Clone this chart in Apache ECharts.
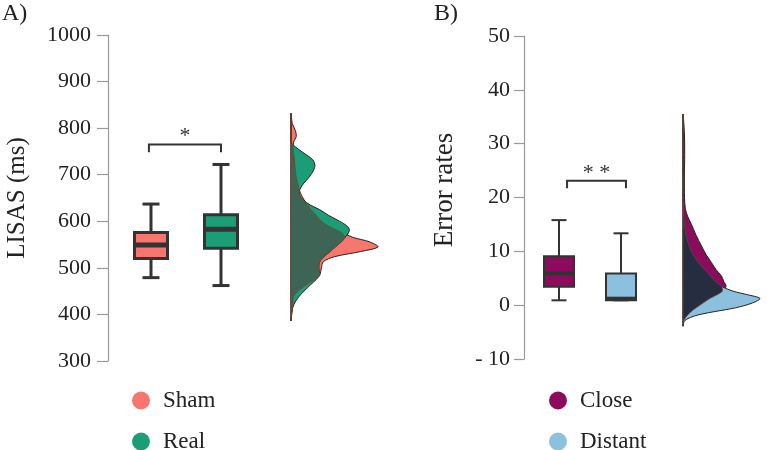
<!DOCTYPE html>
<html>
<head>
<meta charset="utf-8">
<script src="https://cdn.jsdelivr.net/npm/echarts@6/dist/echarts.min.js"></script>
<style>
  html, body { margin: 0; padding: 0; background: #fff; }
  #chart { width: 767px; height: 450px; }
</style>
</head>
<body>
<div id="chart"></div>
<script>
var FONT = 'Liberation Serif';

// ---- panel A: LISAS (ms) ----
// box rows: [x, min, q1, median, q3, max]
var shamBox = [0, 479, 520, 549, 576, 637];
var realBox = [1, 462, 542, 583, 614, 722];
var lisasBracket = [-0.03, 1.0, 765, 748];
// density (relative width)
var lisasLevels = [386, 405, 420, 438, 450, 463, 475, 485, 500, 513, 524, 535, 545, 556, 565, 575, 583, 592, 603, 613, 625, 635, 646, 656, 665, 680, 695, 710, 720, 732, 746, 760, 770, 782, 795, 810, 832];
var shamDensity = [0, 0.01, 0.02, 0.03, 0.08, 0.17, 0.27, 0.33, 0.35, 0.37, 0.5, 0.8, 1.0, 0.9, 0.72, 0.59, 0.5, 0.41, 0.33, 0.29, 0.23, 0.19, 0.15, 0.12, 0.1, 0.08, 0.06, 0.05, 0.045, 0.04, 0.03, 0.025, 0.03, 0.06, 0.05, 0.015, 0];
var realDensity = [0, 0.01, 0.03, 0.09, 0.15, 0.22, 0.29, 0.33, 0.32, 0.33, 0.38, 0.45, 0.51, 0.58, 0.62, 0.66, 0.67, 0.63, 0.53, 0.43, 0.33, 0.22, 0.14, 0.1, 0.095, 0.14, 0.21, 0.26, 0.275, 0.25, 0.15, 0.05, 0, 0, 0, 0, 0];

// ---- panel B: error rates ----
var closeBox = [0, 0.9, 3.4, 5.9, 9.1, 15.8];
var distantBox = [1, 0.9, 0.9, 1.2, 5.9, 13.35];
var errorBracket = [0.13, 1.08, 23.1, 21.7];
var errorLevels = [-3.9, -3.2, -2.6, -2.0, -1.4, -0.5, 0.4, 1.25, 2.0, 2.6, 3.5, 4.4, 5.4, 6.6, 7.9, 9.4, 11, 13, 15, 16.5, 18, 20, 24, 28, 32, 35.5];
var closeDensity = [0, 0.01, 0.02, 0.05, 0.09, 0.17, 0.26, 0.35, 0.45, 0.51, 0.56, 0.53, 0.5, 0.43, 0.37, 0.3, 0.24, 0.17, 0.11, 0.06, 0.03, 0.02, 0.018, 0.022, 0.018, 0];
var distantDensity = [0, 0.005, 0.05, 0.15, 0.33, 0.68, 0.9, 1.0, 0.82, 0.65, 0.5, 0.42, 0.36, 0.28, 0.2, 0.13, 0.08, 0.04, 0.02, 0.01, 0.005, 0.002, 0.001, 0, 0, 0];

var colors = {
	Sham: '#F7766D',
	Real: '#1B9E77',
	Close: '#8C0B5D',
	Distant: '#8BC0DF',
	overlapA: '#3D6455',
	overlapB: '#262D40'
};

function pairs(levels, dens) {
	return levels.map(function (v, i) { return [dens[i], v]; });
}
function minPairs(levels, a, b) {
	return levels.map(function (v, i) { return [Math.min(a[i], b[i]), v]; });
}

function boxRenderer(boxW, capW, lineW, medW) {
	return function (params, api) {
		var x = api.value(0);
		var lo = api.coord([x, api.value(1)]);
		var q1 = api.coord([x, api.value(2)]);
		var md = api.coord([x, api.value(3)]);
		var q3 = api.coord([x, api.value(4)]);
		var hi = api.coord([x, api.value(5)]);
		var cx = md[0];
		function st() { return { stroke: '#333', lineWidth: lineW }; }
		return {
			type: 'group',
			children: [
				{ type: 'line', shape: { x1: cx, y1: hi[1], x2: cx, y2: q3[1] }, style: st() },
				{ type: 'line', shape: { x1: cx, y1: q1[1], x2: cx, y2: lo[1] }, style: st() },
				{ type: 'line', shape: { x1: cx - capW / 2, y1: hi[1], x2: cx + capW / 2, y2: hi[1] }, style: st() },
				{ type: 'line', shape: { x1: cx - capW / 2, y1: lo[1], x2: cx + capW / 2, y2: lo[1] }, style: st() },
				{ type: 'rect', shape: { x: cx - boxW / 2, y: q3[1], width: boxW, height: q1[1] - q3[1] },
					style: { fill: api.visual('color'), stroke: '#333', lineWidth: lineW } },
				{ type: 'line', shape: { x1: cx - boxW / 2, y1: md[1], x2: cx + boxW / 2, y2: md[1] },
					style: { stroke: '#333', lineWidth: medW } }
			]
		};
	};
}

function densityRenderer(stroke, lineW) {
	return function (params, api) {
		if (params.dataIndexInside !== 0) return;
		var n = params.dataInsideLength;
		var curve = [], base = [];
		for (var i = 0; i < n; i++) {
			curve.push(api.coord([api.value(0, i), api.value(1, i)]));
			if (i > 0 && i < n - 1) base.push(api.coord([0, api.value(1, i)]));
		}
		var pts = curve.concat(base.reverse());
		return {
			type: 'polygon',
			shape: { points: pts, smooth: 0.3 },
			style: { fill: api.visual('color'), stroke: stroke, lineWidth: lineW }
		};
	};
}

function bracketRenderer(label, lift) {
	return function (params, api) {
		var a = api.coord([api.value(0), api.value(2)]);
		var b = api.coord([api.value(1), api.value(2)]);
		var legY = api.coord([api.value(0), api.value(3)])[1];
		return {
			type: 'group',
			children: [
				{ type: 'polyline', shape: { points: [[a[0], legY], a, b, [b[0], legY]] },
					style: { stroke: '#333', lineWidth: 2, fill: null } },
				{ type: 'text', style: { text: label, x: (a[0] + b[0]) / 2, y: a[1] - lift, align: 'center',
					verticalAlign: 'middle', fontSize: 22, fontFamily: FONT, fill: '#333' } }
			]
		};
	};
}

function valueAxis(grid, min, max, interval, offset, name, extra) {
	var ax = {
		gridIndex: grid, type: 'value', min: min, max: max, interval: interval, offset: offset,
		name: name, nameLocation: 'middle', nameMoveOverlap: false,
		axisLine: { show: true, onZero: false, lineStyle: { color: '#9a9a9a', width: 1.2 } },
		axisTick: { show: true, length: 11, lineStyle: { color: '#9a9a9a', width: 1.2 } },
		axisLabel: { fontSize: 22, fontFamily: FONT, color: '#222', margin: 17,
			formatter: function (v) { return String(v); } },
		splitLine: { show: false }
	};
	for (var k in extra) ax[k] = extra[k];
	return ax;
}
function hiddenAxis(grid, min, max) {
	return { gridIndex: grid, type: 'value', min: min, max: max, show: false,
		axisLine: { onZero: false }, splitLine: { show: false } };
}

function legendFor(names, left) {
	return {
		data: names, orient: 'vertical', left: left, top: 389, height: 120, padding: 0, icon: 'circle',
		itemWidth: 18, itemHeight: 18, itemGap: 18, selectedMode: false,
		textStyle: { fontSize: 23, lineHeight: 20, fontFamily: FONT, color: '#222', padding: [0, 0, 0, 8] }
	};
}

var chart = echarts.init(document.getElementById('chart'));
var option = {
	animation: false,
	backgroundColor: '#fff',
	title: [
		{ text: 'A)', left: 2, top: 2, padding: 0, textStyle: { fontSize: 24, fontWeight: 'normal', fontFamily: FONT, color: '#222' } },
		{ text: 'B)', left: 434, top: 2, padding: 0, textStyle: { fontSize: 24, fontWeight: 'normal', fontFamily: FONT, color: '#222' } }
	],
	legend: [
		legendFor(['Sham', 'Real'], 132),
		legendFor(['Close', 'Distant'], 549)
	],
	grid: [
		{ left: 116, top: 35, width: 140, height: 326, outerBoundsMode: 'none' },
		{ left: 291, top: 35, width: 87, height: 326, outerBoundsMode: 'none' },
		{ left: 528, top: 36, width: 124, height: 323, outerBoundsMode: 'none' },
		{ left: 683, top: 36, width: 77, height: 323, outerBoundsMode: 'none' }
	],
	xAxis: [
		hiddenAxis(0, -0.5, 1.5),
		hiddenAxis(1, 0, 1),
		hiddenAxis(2, -0.5, 1.5),
		hiddenAxis(3, 0, 1)
	],
	yAxis: [
		valueAxis(0, 300, 1000, 100, 8, 'LISAS (ms)', {
			nameGap: 78,
			nameTextStyle: { fontSize: 25, fontFamily: FONT, color: '#222' }
		}),
		hiddenAxis(1, 300, 1000),
		valueAxis(2, -10, 50, 10, 4, 'Error rates', {
			nameGap: 66,
			nameTextStyle: { fontSize: 27, fontFamily: FONT, color: '#222', padding: [0, 0, 0, 15] },
			axisTick: { show: true, length: 10, lineStyle: { color: '#9a9a9a', width: 1.2 } },
			axisLabel: { fontSize: 22, fontFamily: FONT, color: '#222', margin: 14,
				formatter: function (v) { return v < 0 ? '- ' + Math.abs(v) : String(v); } }
		}),
		hiddenAxis(3, -10, 50)
	],
	series: [
		{ type: 'custom', name: 'Sham', xAxisIndex: 0, yAxisIndex: 0, itemStyle: { color: colors.Sham },
			renderItem: boxRenderer(33, 17, 3, 5), data: [shamBox] },
		{ type: 'custom', name: 'Real', xAxisIndex: 0, yAxisIndex: 0, itemStyle: { color: colors.Real },
			renderItem: boxRenderer(33, 17, 3, 5), data: [realBox] },
		{ type: 'custom', name: 'sigA', xAxisIndex: 0, yAxisIndex: 0,
			renderItem: bracketRenderer('*', 8), data: [lisasBracket] },
		{ type: 'custom', name: 'Sham', xAxisIndex: 1, yAxisIndex: 1, itemStyle: { color: colors.Sham },
			renderItem: densityRenderer('#222', 1), data: pairs(lisasLevels, shamDensity) },
		{ type: 'custom', name: 'Real', xAxisIndex: 1, yAxisIndex: 1, itemStyle: { color: colors.Real },
			renderItem: densityRenderer('#222', 1), data: pairs(lisasLevels, realDensity) },
		{ type: 'custom', name: 'overlapA', xAxisIndex: 1, yAxisIndex: 1, itemStyle: { color: colors.overlapA },
			renderItem: densityRenderer('#7a4424', 0.8), data: minPairs(lisasLevels, shamDensity, realDensity) },

		{ type: 'custom', name: 'Close', xAxisIndex: 2, yAxisIndex: 2, itemStyle: { color: colors.Close },
			renderItem: boxRenderer(30, 15, 2, 4), data: [closeBox] },
		{ type: 'custom', name: 'Distant', xAxisIndex: 2, yAxisIndex: 2, itemStyle: { color: colors.Distant },
			renderItem: boxRenderer(30, 15, 2, 4), data: [distantBox] },
		{ type: 'custom', name: 'sigB', xAxisIndex: 2, yAxisIndex: 2,
			renderItem: bracketRenderer('* *', 8), data: [errorBracket] },
		{ type: 'custom', name: 'Close', xAxisIndex: 3, yAxisIndex: 3, itemStyle: { color: colors.Close },
			renderItem: densityRenderer('#222', 1), data: pairs(errorLevels, closeDensity) },
		{ type: 'custom', name: 'Distant', xAxisIndex: 3, yAxisIndex: 3, itemStyle: { color: colors.Distant },
			renderItem: densityRenderer('#222', 1), data: pairs(errorLevels, distantDensity) },
		{ type: 'custom', name: 'overlapB', xAxisIndex: 3, yAxisIndex: 3, itemStyle: { color: colors.overlapB },
			renderItem: densityRenderer('#6a4a3a', 0.8), data: minPairs(errorLevels, closeDensity, distantDensity) }
	]
};
chart.setOption(option);
</script>
</body>
</html>
